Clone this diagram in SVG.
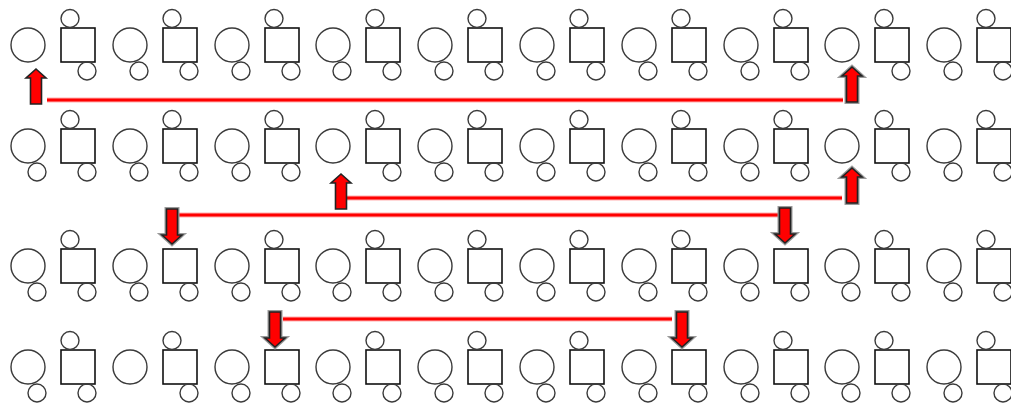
<svg xmlns="http://www.w3.org/2000/svg" xmlns:xlink="http://www.w3.org/1999/xlink" width="1011" height="405" viewBox="0 0 1011 405">
<style>
.c{fill:none;stroke:#3a3a3a;stroke-width:1.4}
.s{fill:none;stroke:#111;stroke-width:1.6}
.ln{stroke:#ff0000;stroke-width:3;fill:none}
.lh{stroke:#ffb0b0;stroke-width:5;fill:none}
.ar{fill:#ff0000;stroke:#222;stroke-width:1.6;stroke-linejoin:miter}
.ah{fill:none;stroke:#9a9a9a;stroke-width:4;stroke-linejoin:miter}
</style>
<defs>
<circle id="bc" class="c" cx="0" cy="0" r="17"/>
<circle id="tl" class="c" cx="9" cy="26" r="9"/>
<rect id="sq" class="s" x="0" y="0" width="34" height="34"/>
<circle id="tp" class="c" cx="9" cy="-9.5" r="9"/>
<circle id="bt" class="c" cx="26" cy="43" r="9"/>
<path id="arr" d="M0,0 L10,9 L5.5,9 L5.5,35 L-5.5,35 L-5.5,9 L-10,9 Z"/>
</defs>
<rect width="1011" height="405" fill="#fff"/>
<!-- Row 1 -->
<g id="r1c0" transform="translate(28,45)"><use href="#bc"/></g>
<g id="r1s0" transform="translate(61,28)"><use href="#sq"/><use href="#tp"/><use href="#bt"/></g>
<g id="r1c1" transform="translate(130,45)"><use href="#bc"/><use href="#tl"/></g>
<g id="r1s1" transform="translate(163,28)"><use href="#sq"/><use href="#tp"/><use href="#bt"/></g>
<g id="r1c2" transform="translate(232,45)"><use href="#bc"/><use href="#tl"/></g>
<g id="r1s2" transform="translate(265,28)"><use href="#sq"/><use href="#tp"/><use href="#bt"/></g>
<g id="r1c3" transform="translate(333,45)"><use href="#bc"/><use href="#tl"/></g>
<g id="r1s3" transform="translate(366,28)"><use href="#sq"/><use href="#tp"/><use href="#bt"/></g>
<g id="r1c4" transform="translate(435,45)"><use href="#bc"/><use href="#tl"/></g>
<g id="r1s4" transform="translate(468,28)"><use href="#sq"/><use href="#tp"/><use href="#bt"/></g>
<g id="r1c5" transform="translate(537,45)"><use href="#bc"/><use href="#tl"/></g>
<g id="r1s5" transform="translate(570,28)"><use href="#sq"/><use href="#tp"/><use href="#bt"/></g>
<g id="r1c6" transform="translate(639,45)"><use href="#bc"/><use href="#tl"/></g>
<g id="r1s6" transform="translate(672,28)"><use href="#sq"/><use href="#tp"/><use href="#bt"/></g>
<g id="r1c7" transform="translate(741,45)"><use href="#bc"/><use href="#tl"/></g>
<g id="r1s7" transform="translate(774,28)"><use href="#sq"/><use href="#tp"/><use href="#bt"/></g>
<g id="r1c8" transform="translate(842,45)"><use href="#bc"/></g>
<g id="r1s8" transform="translate(875,28)"><use href="#sq"/><use href="#tp"/><use href="#bt"/></g>
<g id="r1c9" transform="translate(944,45)"><use href="#bc"/><use href="#tl"/></g>
<g id="r1s9" transform="translate(977,28)"><use href="#sq"/><use href="#tp"/><use href="#bt"/></g>
<!-- Row 2 -->
<g id="r2c0" transform="translate(28,146)"><use href="#bc"/><use href="#tl"/></g>
<g id="r2s0" transform="translate(61,129)"><use href="#sq"/><use href="#tp"/><use href="#bt"/></g>
<g id="r2c1" transform="translate(130,146)"><use href="#bc"/><use href="#tl"/></g>
<g id="r2s1" transform="translate(163,129)"><use href="#sq"/><use href="#tp"/><use href="#bt"/></g>
<g id="r2c2" transform="translate(232,146)"><use href="#bc"/><use href="#tl"/></g>
<g id="r2s2" transform="translate(265,129)"><use href="#sq"/><use href="#tp"/><use href="#bt"/></g>
<g id="r2c3" transform="translate(333,146)"><use href="#bc"/></g>
<g id="r2s3" transform="translate(366,129)"><use href="#sq"/><use href="#tp"/><use href="#bt"/></g>
<g id="r2c4" transform="translate(435,146)"><use href="#bc"/><use href="#tl"/></g>
<g id="r2s4" transform="translate(468,129)"><use href="#sq"/><use href="#tp"/><use href="#bt"/></g>
<g id="r2c5" transform="translate(537,146)"><use href="#bc"/><use href="#tl"/></g>
<g id="r2s5" transform="translate(570,129)"><use href="#sq"/><use href="#tp"/><use href="#bt"/></g>
<g id="r2c6" transform="translate(639,146)"><use href="#bc"/><use href="#tl"/></g>
<g id="r2s6" transform="translate(672,129)"><use href="#sq"/><use href="#tp"/><use href="#bt"/></g>
<g id="r2c7" transform="translate(741,146)"><use href="#bc"/><use href="#tl"/></g>
<g id="r2s7" transform="translate(774,129)"><use href="#sq"/><use href="#tp"/><use href="#bt"/></g>
<g id="r2c8" transform="translate(842,146)"><use href="#bc"/></g>
<g id="r2s8" transform="translate(875,129)"><use href="#sq"/><use href="#tp"/><use href="#bt"/></g>
<g id="r2c9" transform="translate(944,146)"><use href="#bc"/><use href="#tl"/></g>
<g id="r2s9" transform="translate(977,129)"><use href="#sq"/><use href="#tp"/><use href="#bt"/></g>
<!-- Row 3 -->
<g id="r3c0" transform="translate(28,266)"><use href="#bc"/><use href="#tl"/></g>
<g id="r3s0" transform="translate(61,249)"><use href="#sq"/><use href="#tp"/><use href="#bt"/></g>
<g id="r3c1" transform="translate(130,266)"><use href="#bc"/><use href="#tl"/></g>
<g id="r3s1" transform="translate(163,249)"><use href="#sq"/><use href="#bt"/></g>
<g id="r3c2" transform="translate(232,266)"><use href="#bc"/><use href="#tl"/></g>
<g id="r3s2" transform="translate(265,249)"><use href="#sq"/><use href="#tp"/><use href="#bt"/></g>
<g id="r3c3" transform="translate(333,266)"><use href="#bc"/><use href="#tl"/></g>
<g id="r3s3" transform="translate(366,249)"><use href="#sq"/><use href="#tp"/><use href="#bt"/></g>
<g id="r3c4" transform="translate(435,266)"><use href="#bc"/><use href="#tl"/></g>
<g id="r3s4" transform="translate(468,249)"><use href="#sq"/><use href="#tp"/><use href="#bt"/></g>
<g id="r3c5" transform="translate(537,266)"><use href="#bc"/><use href="#tl"/></g>
<g id="r3s5" transform="translate(570,249)"><use href="#sq"/><use href="#tp"/><use href="#bt"/></g>
<g id="r3c6" transform="translate(639,266)"><use href="#bc"/><use href="#tl"/></g>
<g id="r3s6" transform="translate(672,249)"><use href="#sq"/><use href="#tp"/><use href="#bt"/></g>
<g id="r3c7" transform="translate(741,266)"><use href="#bc"/><use href="#tl"/></g>
<g id="r3s7" transform="translate(774,249)"><use href="#sq"/><use href="#bt"/></g>
<g id="r3c8" transform="translate(842,266)"><use href="#bc"/><use href="#tl"/></g>
<g id="r3s8" transform="translate(875,249)"><use href="#sq"/><use href="#tp"/><use href="#bt"/></g>
<g id="r3c9" transform="translate(944,266)"><use href="#bc"/><use href="#tl"/></g>
<g id="r3s9" transform="translate(977,249)"><use href="#sq"/><use href="#tp"/><use href="#bt"/></g>
<!-- Row 4 -->
<g id="r4c0" transform="translate(28,367)"><use href="#bc"/><use href="#tl"/></g>
<g id="r4s0" transform="translate(61,350)"><use href="#sq"/><use href="#tp"/><use href="#bt"/></g>
<g id="r4c1" transform="translate(130,367)"><use href="#bc"/></g>
<g id="r4s1" transform="translate(163,350)"><use href="#sq"/><use href="#tp"/><use href="#bt"/></g>
<g id="r4c2" transform="translate(232,367)"><use href="#bc"/><use href="#tl"/></g>
<g id="r4s2" transform="translate(265,350)"><use href="#sq"/><use href="#bt"/></g>
<g id="r4c3" transform="translate(333,367)"><use href="#bc"/><use href="#tl"/></g>
<g id="r4s3" transform="translate(366,350)"><use href="#sq"/><use href="#tp"/><use href="#bt"/></g>
<g id="r4c4" transform="translate(435,367)"><use href="#bc"/><use href="#tl"/></g>
<g id="r4s4" transform="translate(468,350)"><use href="#sq"/><use href="#tp"/><use href="#bt"/></g>
<g id="r4c5" transform="translate(537,367)"><use href="#bc"/><use href="#tl"/></g>
<g id="r4s5" transform="translate(570,350)"><use href="#sq"/><use href="#tp"/><use href="#bt"/></g>
<g id="r4c6" transform="translate(639,367)"><use href="#bc"/><use href="#tl"/></g>
<g id="r4s6" transform="translate(672,350)"><use href="#sq"/><use href="#bt"/></g>
<g id="r4c7" transform="translate(741,367)"><use href="#bc"/><use href="#tl"/></g>
<g id="r4s7" transform="translate(774,350)"><use href="#sq"/><use href="#tp"/><use href="#bt"/></g>
<g id="r4c8" transform="translate(842,367)"><use href="#bc"/><use href="#tl"/></g>
<g id="r4s8" transform="translate(875,350)"><use href="#sq"/><use href="#tp"/><use href="#bt"/></g>
<g id="r4c9" transform="translate(944,367)"><use href="#bc"/><use href="#tl"/></g>
<g id="r4s9" transform="translate(977,350)"><use href="#sq"/><use href="#tp"/><use href="#bt"/></g>
<!-- Connectors -->
<g id="connectors">
<line class="lh" x1="47" y1="100" x2="843" y2="100"/>
<line class="ln" x1="47" y1="100" x2="843" y2="100"/>
<line class="lh" x1="345" y1="198" x2="842" y2="198"/>
<line class="ln" x1="345" y1="198" x2="842" y2="198"/>
<line class="lh" x1="177" y1="215" x2="778" y2="215"/>
<line class="ln" x1="177" y1="215" x2="778" y2="215"/>
<line class="lh" x1="283" y1="319" x2="672" y2="319"/>
<line class="ln" x1="283" y1="319" x2="672" y2="319"/>
<g transform="translate(36,69)"><use href="#arr" class="ar"/></g>
<g transform="translate(852,67)"><use href="#arr" class="ah"/><use href="#arr" class="ar"/></g>
<g transform="translate(341,174)"><use href="#arr" class="ar"/></g>
<g transform="translate(852,168)"><use href="#arr" class="ah"/><use href="#arr" class="ar"/></g>
<g transform="translate(172,244) rotate(180)"><use href="#arr" class="ah"/><use href="#arr" class="ar"/></g>
<g transform="translate(785,243) rotate(180)"><use href="#arr" class="ah"/><use href="#arr" class="ar"/></g>
<g transform="translate(275,347) rotate(180)"><use href="#arr" class="ah"/><use href="#arr" class="ar"/></g>
<g transform="translate(682,347) rotate(180)"><use href="#arr" class="ah"/><use href="#arr" class="ar"/></g>
</g>
</svg>
